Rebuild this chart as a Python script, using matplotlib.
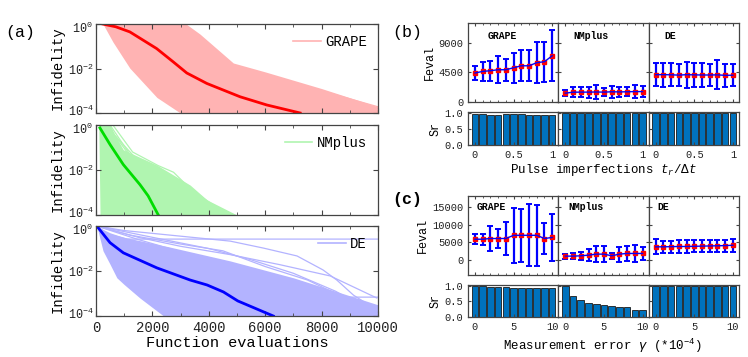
import matplotlib
matplotlib.use("Agg")
import matplotlib.pyplot as plt
import matplotlib.transforms as mtransforms
import numpy as np
from matplotlib.ticker import MultipleLocator, NullFormatter, LogLocator

plt.rcParams["font.family"] = ["Liberation Mono", "DejaVu Sans"]
plt.rcParams["mathtext.fontset"] = "custom"
plt.rcParams["mathtext.rm"] = "Liberation Mono"
plt.rcParams["mathtext.it"] = "Liberation Mono:italic"
plt.rcParams["mathtext.bf"] = "Liberation Mono:bold"

# ---------------------------------------------------------------------------
# (a) convergence traces: log10(infidelity) vs function evaluations
# ---------------------------------------------------------------------------
grape_mean_x = [250, 700, 1200, 2150, 2740, 3220, 3930, 5110, 6060, 7240]
grape_mean_log = [0, -0.12, -0.35, -1.1, -1.7, -2.2, -2.67, -3.27, -3.64, -4.0]
grape_env_x = [250, 600, 1200, 2160, 2990, 3200, 3690, 4280, 4870, 6000, 8000, 10000]
grape_env_hi = [0, 0, 0, 0, 0, 0, -0.45, -1.1, -1.75, -2.15, -2.9, -3.72]
grape_env_lo = [0, -0.8, -1.98, -3.3, -4.0, -4.5, -4.5, -4.5, -4.5, -4.5, -4.5, -4.5]
grape_traces = [
    ([250, 2500, 3000, 3500, 4000, 4500, 10000], [0, 0, -0.2, -0.6, -1.2, -1.75, -3.72]),
    ([250, 2400, 3000, 3500, 4100, 4700, 10000], [0, 0, -0.35, -0.85, -1.45, -1.9, -3.85]),
    ([250, 2200, 2800, 3300, 3900, 4500, 9800], [0, 0, -0.4, -0.95, -1.6, -2.05, -4.0]),
]

nm_mean_x = [140, 500, 970, 1560, 1850, 2210]
nm_mean_log = [-0.13, -0.87, -1.76, -2.65, -3.15, -4.0]
nm_env_x = [100, 150, 500, 700, 970, 2160, 3340, 3940, 5000]
nm_env_hi = [0, 0, 0, -0.5, -1.1, -1.78, -2.67, -3.33, -4.0]
nm_env_lo = [0, -4.5, -4.5, -4.5, -4.5, -4.5, -4.5, -4.5, -4.5]
nm_traces = [
    ([600, 1300, 2200, 2750, 3400, 4100, 4870], [0, -1.2, -1.8, -2.1, -2.9, -3.5, -4.0]),
    ([500, 1200, 2000, 2600, 3300, 3700], [0, -1.3, -2.2, -2.7, -3.5, -4.0]),
    ([400, 1100, 1800, 2500, 3000, 3600], [0, -1.2, -2.0, -2.9, -3.3, -4.0]),
    ([700, 1500, 2300, 2700, 3100], [-0.5, -1.6, -2.5, -3.2, -4.0]),
]

de_mean_x = [30, 500, 970, 2160, 3340, 3940, 4520, 5030, 6290]
de_mean_log = [0, -0.74, -1.19, -1.86, -2.4, -2.62, -2.93, -3.33, -4.0]
de_env_x = [30, 250, 500, 740, 1000, 1560, 2400, 2500, 4760, 7000, 10000]
de_env_hi = [0, -0.15, -0.3, -0.4, -0.5, -0.65, -0.88, -0.9, -1.55, -2.3, -3.5]
de_env_lo = [0, -1.1, -1.7, -2.3, -2.6, -3.2, -4.0, -4.5, -4.5, -4.5, -4.5]
de_traces = [
    ([30, 400, 1100, 10000], [0, -0.35, -0.58, -0.58]),
    ([30, 1000, 3000, 4760, 5940, 7130, 8050, 8540, 9130, 9840, 10000],
     [0, -0.2, -0.45, -0.67, -0.98, -1.33, -1.95, -2.4, -3.07, -3.64, -3.75]),
    ([30, 1500, 3000, 4760, 6530, 8310, 9960], [0, -0.5, -0.9, -1.27, -1.72, -2.22, -3.2]),
    ([30, 1500, 4000, 6500, 8000, 8900, 10000], [0, -0.6, -1.5, -2.3, -2.9, -3.16, -3.16]),
    ([30, 2000, 4000, 5500, 7000, 8500, 9500, 10000], [0, -0.5, -1.0, -1.5, -2.1, -2.9, -3.6, -3.9]),
    ([30, 1200, 3000, 4500, 6000, 7500, 9000, 10000], [0, -0.4, -0.8, -1.1, -1.8, -2.4, -3.3, -3.6]),
]

# ---------------------------------------------------------------------------
# (b) pulse imperfections
# ---------------------------------------------------------------------------
b_x = [0, 0.1, 0.2, 0.3, 0.4, 0.5, 0.6, 0.7, 0.8, 0.9, 1.0]
b_grape_mean = [4400, 4650, 4750, 4900, 4900, 5200, 5500, 5500, 5970, 6120, 7030]
b_grape_std = [1000, 1450, 1550, 2050, 1700, 2280, 2350, 2330, 3130, 3010, 3870]
b_nm_mean = [1340, 1490, 1500, 1500, 1520, 1500, 1550, 1530, 1550, 1580, 1580]
b_nm_std = [500, 800, 800, 850, 1000, 550, 870, 800, 700, 1000, 800]
b_de_mean = [4150, 4150, 4130, 4080, 4150, 4120, 4100, 4100, 4120, 4050, 4070]
b_de_std = [1750, 1800, 1750, 1700, 2000, 1800, 1800, 1700, 2200, 1700, 1700]
b_grape_sr = [0.97, 0.97, 0.95, 0.95, 0.97, 0.97, 0.97, 0.95, 0.95, 0.95, 0.94]
b_nm_sr = [1.0] * 11
b_de_sr = [1.0] * 11

# ---------------------------------------------------------------------------
# (c) measurement error
# ---------------------------------------------------------------------------
c_x = [0, 1, 2, 3, 4, 5, 6, 7, 8, 9, 10]
c_grape_mean = [5900, 5900, 6100, 6100, 6100, 7000, 7000, 7000, 7000, 6100, 6400]
c_grape_std = [1400, 1500, 3500, 2600, 4700, 7700, 7400, 8700, 8600, 4500, 6700]
c_nm_mean = [1130, 1130, 1220, 1400, 1690, 1690, 1220, 1690, 1880, 1880, 1880]
c_nm_std = [700, 900, 1100, 1600, 2300, 2300, 900, 2100, 2200, 2350, 1800]
c_de_mean = [3750, 3750, 3800, 3850, 3850, 3900, 3950, 4000, 4050, 4100, 4200]
c_de_std = [2100, 1700, 1700, 1700, 1700, 1700, 1700, 1700, 1700, 1700, 1800]
c_grape_sr = [1.0, 1.0, 0.98, 0.98, 0.97, 0.95, 0.95, 0.95, 0.92, 0.94, 0.95]
c_nm_sr = [1.0, 0.67, 0.55, 0.46, 0.41, 0.38, 0.34, 0.32, 0.33, 0.24, 0.22]
c_de_sr = [1.0] * 11

ALGOS = ["GRAPE", "NMplus", "DE"]
SPINE = "#444444"


def style_ax(ax):
    ax.tick_params(which="both", direction="in", top=True, right=True,
                   colors=SPINE, labelcolor="#222222")
    for sp in ax.spines.values():
        sp.set_color(SPINE)
        sp.set_linewidth(0.9)


def trace_panel(ax, env_x, env_hi, env_lo, traces, mean_x, mean_log, light, dark, name):
    ax.fill_between(env_x, 10.0 ** np.array(env_hi), 10.0 ** np.array(env_lo),
                    color=light, lw=0)
    for tx, ty in traces:
        ax.plot(tx, 10.0 ** np.array(ty), color=light, lw=0.9)
    ax.plot([], [], color=light, lw=1.2, label=name)
    ax.plot(mean_x, 10.0 ** np.array(mean_log), color=dark, lw=2.0)
    ax.set_yscale("log")
    ax.set_ylim(1e-4, 1)
    ax.set_xlim(0, 10000)
    ax.set_yticks([1e-4, 1e-2, 1])
    ax.yaxis.set_minor_locator(LogLocator(subs=np.arange(2, 10)))
    ax.yaxis.set_minor_formatter(NullFormatter())
    ax.xaxis.set_major_locator(MultipleLocator(2000))
    ax.xaxis.set_minor_locator(MultipleLocator(1000))
    ax.set_ylabel("Infidelity", fontsize=10, labelpad=2)
    ax.tick_params(axis="x", labelsize=10)
    ax.tick_params(axis="y", labelsize=8.5, pad=2)
    style_ax(ax)
    ax.legend(loc="upper right", frameon=False, fontsize=10, handlelength=2.0,
              handletextpad=0.3, borderaxespad=0.4)
    # nudge the end labels so neighbouring panels' labels do not collide
    ylabs = ax.get_yticklabels()
    up = mtransforms.ScaledTranslation(0, 3 / 100, fig.dpi_scale_trans)
    down = mtransforms.ScaledTranslation(0, -3 / 100, fig.dpi_scale_trans)
    ylabs[0].set_transform(ylabs[0].get_transform() + up)
    ylabs[-1].set_transform(ylabs[-1].get_transform() + down)


fig = plt.figure(figsize=(7.48, 3.57), dpi=100)

left_specs = [
    (0.6835, 0.249, grape_env_x, grape_env_hi, grape_env_lo, grape_traces,
     grape_mean_x, grape_mean_log, "#ffb3b3", "#ff0000", "GRAPE"),
    (0.3978, 0.252, nm_env_x, nm_env_hi, nm_env_lo, nm_traces,
     nm_mean_x, nm_mean_log, "#b0f5b0", "#00dd00", "NMplus"),
    (0.1148, 0.252, de_env_x, de_env_hi, de_env_lo, de_traces,
     de_mean_x, de_mean_log, "#b3b3ff", "#0000ff", "DE"),
]
for i, spec in enumerate(left_specs):
    ax = fig.add_axes([0.1283, spec[0], 0.377, spec[1]])
    trace_panel(ax, *spec[2:])
    if i < 2:
        ax.set_xticklabels([])
    else:
        ax.set_xlabel("Function evaluations", fontsize=11, labelpad=1)


def group_panels(fe_bottom, fe_h, sr_bottom, sr_h, x, means, stds, srs,
                 xlim, bar_w, ylim, yticks, xticks, xticklabels, xminor,
                 title_x, title_y):
    for k in range(3):
        left = 0.6257 + k * 0.1208
        ax = fig.add_axes([left, fe_bottom, 0.1208, fe_h])
        ax.errorbar(x, means[k], yerr=stds[k], color="#0000ff", lw=1.0,
                    elinewidth=1.6, capsize=2, capthick=1.4)
        ax.plot(x, means[k], "s", color="#ff0000", ms=2.5)
        ax.set_xlim(*xlim)
        ax.set_ylim(*ylim)
        ax.set_yticks(yticks)
        ax.set_xticks(xticks)
        ax.xaxis.set_minor_locator(MultipleLocator(xminor))
        ax.set_xticklabels([])
        ax.tick_params(labelsize=7.5, length=2.5)
        ax.tick_params(which="minor", length=1.5)
        style_ax(ax)
        ax.text(title_x[k], title_y, ALGOS[k], transform=ax.transAxes,
                fontsize=7, fontweight="bold", va="center", ha="left")
        if k == 0:
            ax.set_ylabel("Feval", fontsize=8.5, labelpad=2)
        else:
            ax.set_yticklabels([])

        axs = fig.add_axes([left, sr_bottom, 0.1208, sr_h])
        axs.bar(x, srs[k], width=bar_w, color="#0072BD", edgecolor="#1a1a1a", lw=0.6)
        axs.set_xlim(*xlim)
        axs.set_ylim(0, 1.03)
        axs.set_yticks([0, 0.5, 1.0])
        axs.set_yticklabels(["0.0", "0.5", "1.0"])
        axs.set_xticks(xticks)
        axs.set_xticklabels(xticklabels)
        axs.tick_params(labelsize=7.5, length=2.5)
        style_ax(axs)
        axs.tick_params(top=False, right=False)
        if k == 0:
            axs.set_ylabel("Sr", fontsize=8.5, labelpad=2)
        else:
            axs.set_yticklabels([])


group_panels(0.7143, 0.2213, 0.5938, 0.0924, b_x,
             [b_grape_mean, b_nm_mean, b_de_mean],
             [b_grape_std, b_nm_std, b_de_std],
             [b_grape_sr, b_nm_sr, b_de_sr],
             (-0.09, 1.08), 0.085, (0, 12000), [0, 4500, 9000],
             [0, 0.5, 1], ["0", "0.5", "1"], 0.1,
             [0.22, 0.17, 0.17], 0.84)

group_panels(0.2297, 0.2213, 0.112, 0.0896, c_x,
             [c_grape_mean, c_nm_mean, c_de_mean],
             [c_grape_std, c_nm_std, c_de_std],
             [c_grape_sr, c_nm_sr, c_de_sr],
             (-0.9, 10.8), 0.85, (-4200, 18100), [0, 5000, 10000, 15000],
             [0, 5, 10], ["0", "5", "10"], 1,
             [0.1, 0.11, 0.1], 0.86)

fig.text(0.007, 0.91, "(a)", fontsize=12, va="center", ha="left")
fig.text(0.524, 0.91, "(b)", fontsize=12, va="center", ha="left")
fig.text(0.524, 0.44, "(c)", fontsize=12, va="center", ha="left", fontweight="bold")
fig.text(0.806, 0.524, r"Pulse imperfections $t_r/\Delta t$", fontsize=9,
         ha="center", va="center")
fig.text(0.805, 0.031, r"Measurement error $\gamma$ (*10$^{-4}$)", fontsize=9,
         ha="center", va="center")

fig.savefig("out.png", dpi=100)
